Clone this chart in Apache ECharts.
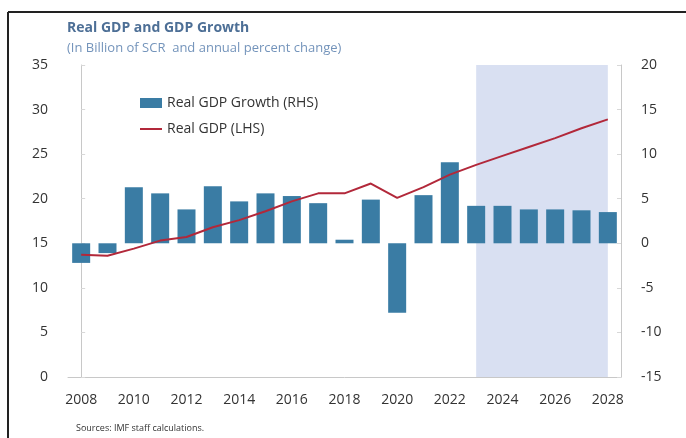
<!DOCTYPE html>
<html>
<head>
<meta charset="utf-8">
<script src="https://cdn.jsdelivr.net/npm/echarts@6/dist/echarts.min.js"></script>
<style>
  html, body { margin: 0; padding: 0; background: #fff; }
  #chart { width: 686px; height: 438px; }
</style>
</head>
<body>
<div id="chart"></div>
<script>
// years on the x axis
var years = ['2008','2009','2010','2011','2012','2013','2014','2015','2016','2017','2018',
             '2019','2020','2021','2022','2023','2024','2025','2026','2027','2028'];
// real GDP growth, percent (RHS)
var growth = [-2.2, -1.1, 6.3, 5.6, 3.8, 6.4, 4.7, 5.6, 5.3, 4.5, 0.4,
              4.9, -7.8, 5.4, 9.1, 4.2, 4.2, 3.8, 3.8, 3.7, 3.5];
// real GDP, billion SCR (LHS)
var realGdp = [13.7, 13.6, 14.4, 15.3, 15.7, 16.8, 17.6, 18.6, 19.7, 20.6, 20.6,
               21.7, 20.1, 21.3, 22.7, 23.8, 24.8, 25.8, 26.8, 27.9, 28.9];
// projection years shaded
var projStart = '2023';
var projEnd = '2028';

var font = '"Open Sans", "Noto Sans", sans-serif';

var chart = echarts.init(document.getElementById('chart'));
chart.setOption({
  animation: false,
  textStyle: { fontFamily: font },
  title: [
    {
      text: 'Real GDP and GDP Growth',
      left: 62, top: 16,
      textStyle: { fontSize: 14, fontWeight: 'bold', color: '#4d6f96', fontFamily: font }
    },
    {
      text: '(In Billion of SCR  and annual percent change)',
      left: 62, top: 37,
      textStyle: { fontSize: 13, fontWeight: 'normal', color: '#7494bb', fontFamily: font }
    },
    {
      text: 'Sources: IMF staff calculations.',
      left: 71, top: 419,
      textStyle: { fontSize: 9, fontWeight: 'normal', color: '#333', fontFamily: font }
    }
  ],
  graphic: [
    { type: 'line', shape: { x1: 8, y1: 12, x2: 686, y2: 12 }, style: { stroke: '#222', lineWidth: 2 } },
    { type: 'line', shape: { x1: 8, y1: 12, x2: 8, y2: 438 }, style: { stroke: '#222', lineWidth: 2 } }
  ],
  legend: {
    orient: 'vertical',
    left: 135, top: 91,
    itemGap: 12,
    itemWidth: 22, itemHeight: 10,
    textStyle: { fontSize: 14, color: '#333', fontFamily: font },
    data: [
      { name: 'Real GDP Growth (RHS)', icon: 'rect' },
      { name: 'Real GDP (LHS)', icon: 'path://M0,0 L22,0 L22,2 L0,2 Z' }
    ]
  },
  grid: { left: 68, right: 65, top: 65, bottom: 61 },
  xAxis: [
    {
      type: 'category',
      data: years,
      axisLine: { lineStyle: { color: '#c8c8c8' } },
      axisTick: { inside: true, interval: 1, length: 4, lineStyle: { color: '#d0d0d0' } },
      axisLabel: { interval: 1, fontSize: 14, color: '#333', margin: 16 }
    },
    {
      // hidden helper axis: one unit per year, centred on the bars
      type: 'value',
      min: -0.5, max: years.length - 0.5,
      show: false
    }
  ],
  yAxis: [
    {
      type: 'value', min: 0, max: 35, interval: 5, position: 'left',
      axisLine: { show: true, lineStyle: { color: '#c8c8c8' } },
      axisTick: { show: true, inside: true, length: 4, lineStyle: { color: '#d8d8d8' } },
      splitLine: { show: false },
      axisLabel: { fontSize: 14, color: '#333', margin: 20 }
    },
    {
      type: 'value', min: -15, max: 20, interval: 5, position: 'right',
      axisLine: { show: true, lineStyle: { color: '#c8c8c8' } },
      axisTick: { show: true, inside: true, length: 4, lineStyle: { color: '#d8d8d8' } },
      splitLine: { show: false },
      axisLabel: { fontSize: 14, color: '#333', margin: 20 }
    }
  ],
  series: [
    {
      // projection shading
      name: 'proj',
      type: 'line',
      xAxisIndex: 1,
      yAxisIndex: 0,
      data: [],
      z: 1,
      markArea: {
        silent: true,
        itemStyle: { color: '#d9e0f2' },
        data: [[{ xAxis: years.indexOf(projStart) }, { xAxis: years.indexOf(projEnd) }]]
      }
    },
    {
      name: 'Real GDP Growth (RHS)',
      type: 'bar',
      yAxisIndex: 1,
      data: growth,
      barWidth: 18,
      itemStyle: { color: '#3a7ca4' },
      z: 3
    },
    {
      name: 'Real GDP (LHS)',
      type: 'line',
      yAxisIndex: 0,
      data: realGdp,
      symbol: 'none',
      lineStyle: { color: '#b2283a', width: 2 },
      itemStyle: { color: '#b2283a' },
      z: 4
    }
  ]
});
</script>
</body>
</html>
